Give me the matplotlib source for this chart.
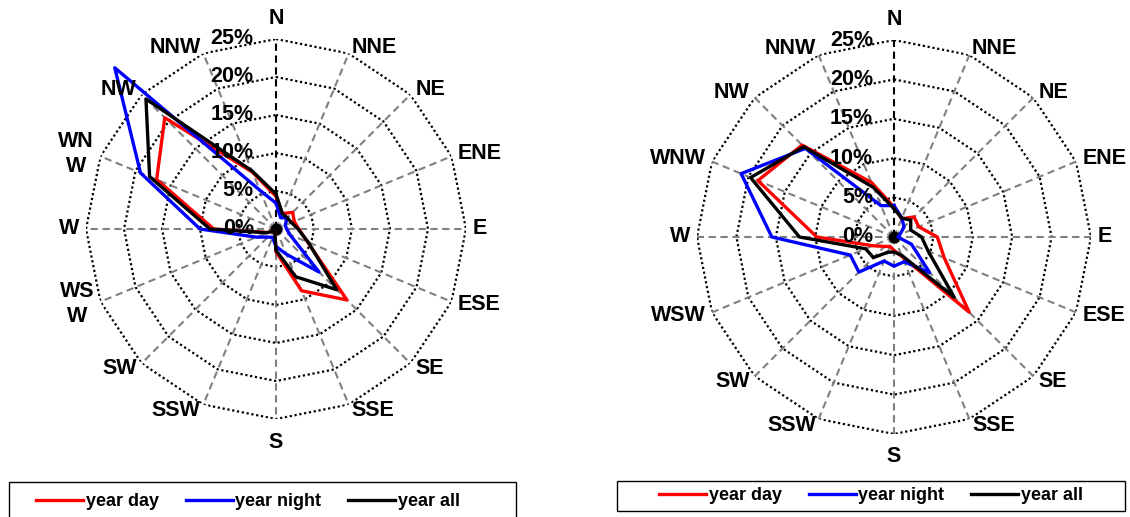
import numpy as np
import matplotlib.pyplot as plt
from matplotlib.lines import Line2D
from matplotlib.patches import Rectangle

plt.rcParams['font.family'] = ['Liberation Sans', 'DejaVu Sans']
plt.rcParams['font.weight'] = 'bold'

W, H = 1130, 517

directions = ['N', 'NNE', 'NE', 'ENE', 'E', 'ESE', 'SE', 'SSE',
              'S', 'SSW', 'SW', 'WSW', 'W', 'WNW', 'NW', 'NNW']
# the left rose wraps the long west labels onto two lines
left_labels = directions[:11] + ['WS\nW', 'W', 'WN\nW'] + directions[14:]
right_labels = directions
ring_ticks = [0, 5, 10, 15, 20, 25]
series_names = ['year day', 'year night', 'year all']
series_colors = ['#ff0000', '#0000ff', '#000000']

# frequency of wind direction [%], N clockwise to NNW
left_day = [4.3, 2.2, 3.1, 2.6, 3.0, 4.5, 13.2, 8.8, 3.0, 0.4, 0.3, 1.2, 8.2, 17.0, 20.7, 8.1]
left_night = [3.4, 1.6, 2.1, 1.3, 1.4, 2.0, 8.0, 3.6, 2.3, 1.2, 1.5, 2.8, 10.0, 19.3, 30.0, 5.5]
left_all = [4.6, 2.2, 2.1, 2.2, 2.9, 4.6, 11.3, 6.8, 2.8, 0.4, 0.3, 1.3, 8.7, 18.0, 24.2, 8.3]

right_day = [3.8, 2.5, 3.6, 3.4, 5.5, 6.9, 13.5, 2.7, 1.7, 1.3, 1.7, 2.9, 9.8, 18.7, 16.5, 7.5]
right_night = [4.0, 2.6, 1.8, 0.8, 0.5, 2.4, 6.4, 3.4, 3.7, 3.3, 6.3, 6.0, 15.5, 21.0, 15.9, 4.3]
right_all = [3.6, 2.6, 3.0, 2.3, 3.5, 4.7, 10.8, 2.5, 1.9, 2.1, 3.7, 3.9, 12.0, 19.7, 16.2, 6.8]


def draw_rose(ax, series, labels, pct_offset):
    rmax = ring_ticks[-1]
    theta = np.deg2rad(np.arange(len(directions)) * 22.5)
    closed = np.append(theta, theta[0])

    ax.set_theta_zero_location('N')
    ax.set_theta_direction(-1)
    ax.set_ylim(0, rmax)
    ax.grid(False)
    ax.spines['polar'].set_visible(False)
    ax.set_xticks([])
    ax.set_yticks([])
    ax.patch.set_visible(False)

    # polygon rings and spokes like an Excel radar chart
    for r in ring_ticks[1:]:
        ax.plot(closed, [r] * len(closed), color='black', lw=1.6,
                ls=(0, (1, 1.2)), zorder=1)
    for i, t in enumerate(theta):
        ax.plot([t, t], [0, rmax], color='black' if i == 0 else '#808080',
                lw=1.5, ls=(0, (3.5, 2.2)), zorder=1)
    ax.plot([0], [0], 'o', color='black', ms=7.5, zorder=2)

    for values, color in zip(series, series_colors):
        v = np.append(values, values[0])
        ax.plot(closed, v, color=color, lw=2.4, clip_on=False, zorder=3)

    for t, lab in zip(theta, labels):
        s, c = np.sin(t), np.cos(t)
        if abs(s) < 0.1:
            ha = 'center'
            va = 'bottom' if c > 0 else 'top'
            off = (0, 7 if c > 0 else -9)
        else:
            ha = 'left' if s > 0 else 'right'
            va = 'center'
            off = (5 * s, 5 * c)
        ax.annotate(lab, xy=(t, rmax), xytext=off, textcoords='offset points',
                    ha=ha, va=va, fontsize=15.5, fontweight='bold',
                    multialignment='center', linespacing=1.25,
                    annotation_clip=False)

    for r in ring_ticks:
        ax.annotate(f'{r}%', xy=(0, r), xytext=(-pct_offset, 0),
                    textcoords='offset points', ha='right', va='center',
                    fontsize=15.5, fontweight='bold', zorder=4)


fig = plt.figure(figsize=(W / 100, H / 100), dpi=100)

ax1 = fig.add_axes([86 / W, 98 / H, 380 / W, 380 / H], projection='polar')
draw_rose(ax1, [left_day, left_night, left_all], left_labels, 16)

ax2 = fig.add_axes([697 / W, 83 / H, 394 / W, 394 / H], projection='polar')
draw_rose(ax2, [right_day, right_night, right_all], right_labels, 15)

# legend boxes below each rose
handles = [Line2D([], [], color=c, lw=2.4) for c in series_colors]
boxes = [((9, 482, 507, 60), (248, 502)),
         ((617, 481, 508, 30), (871, 496))]
for (x0, top, w, h), (cx, cy) in boxes:
    fig.add_artist(Rectangle((x0 / W, (H - top - h) / H), w / W, h / H,
                             transform=fig.transFigure, fill=False,
                             ec='black', lw=1.0))
    fig.legend(handles, series_names, loc='center', ncol=3,
               bbox_to_anchor=(cx / W, (H - cy) / H), frameon=False,
               handlelength=2.6, handletextpad=0.15, columnspacing=1.5,
               prop={'size': 13, 'weight': 'bold'})

fig.savefig('out.png', dpi=100)
